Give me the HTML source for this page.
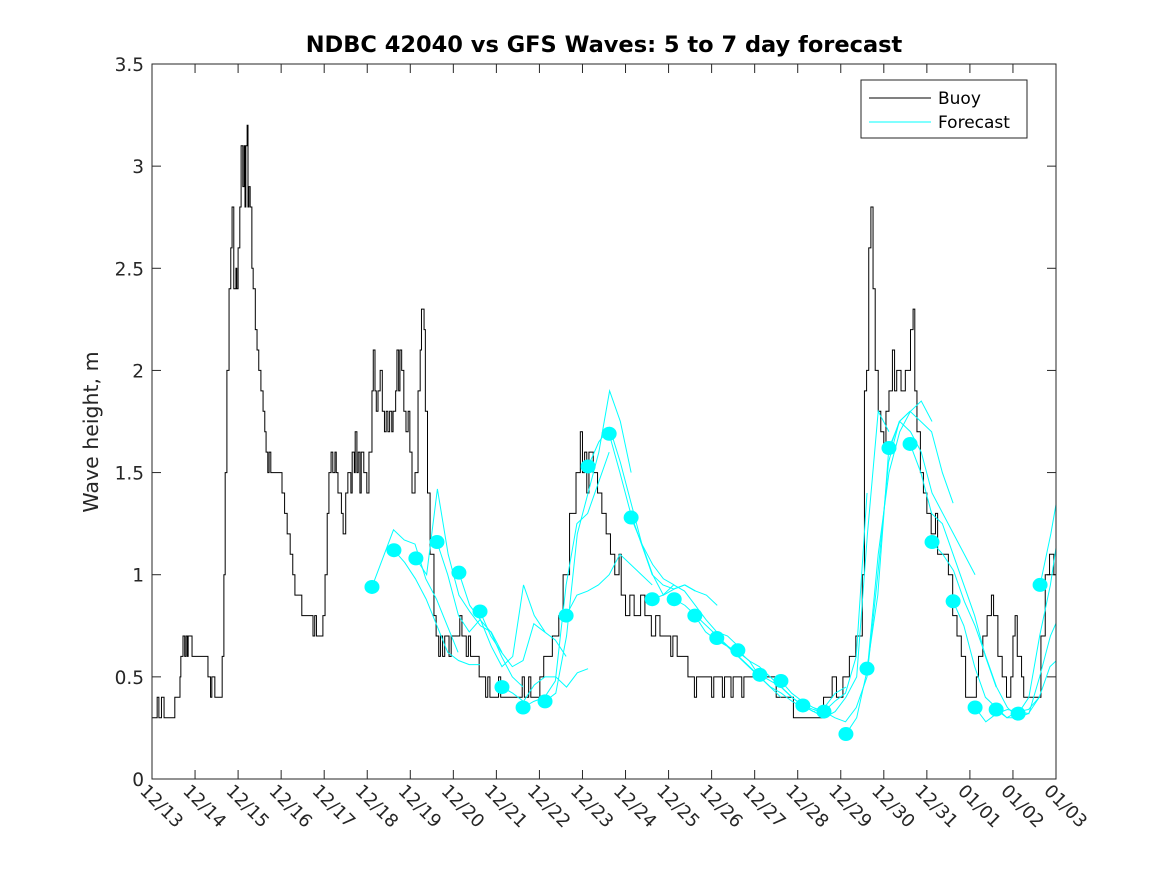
<!DOCTYPE html>
<html><head><meta charset="utf-8"><style>
body{margin:0;background:#fff;}
svg{display:block;font-family:"DejaVu Sans","Liberation Sans",sans-serif;}
</style></head><body>
<svg id="chart" width="1167" height="875">
<rect x="0" y="0" width="1167" height="875" fill="#fff"/>
<text x="604" y="52" text-anchor="middle" font-size="22.5" font-weight="bold">NDBC 42040 vs GFS Waves: 5 to 7 day forecast</text>
<text transform="translate(98,432) rotate(-90)" text-anchor="middle" font-size="20.5" fill="#262626">Wave height, m</text>
<g id="grid"></g>
<defs><clipPath id="clip"><rect x="152" y="64" width="904" height="715"/></clipPath></defs>
<g id="series" clip-path="url(#clip)"></g>
<rect x="152" y="64" width="904" height="715" fill="none" stroke="#262626" stroke-width="1"/>
<g>
<rect x="861" y="80" width="166" height="58" fill="#fff" stroke="#262626"/>
<line x1="869" y1="98" x2="931" y2="98" stroke="#000"/>
<text x="938" y="104" font-size="17" fill="#000">Buoy</text>
<line x1="869" y1="122" x2="931" y2="122" stroke="#00ffff"/>
<text x="938" y="128" font-size="17" fill="#000">Forecast</text>
</g>
</svg>
<script>
const xLabels=["12/13","12/14","12/15","12/16","12/17","12/18","12/19","12/20","12/21","12/22","12/23","12/24","12/25","12/26","12/27","12/28","12/29","12/30","12/31","01/01","01/02","01/03"];
const yTicks=[0,0.5,1,1.5,2,2.5,3,3.5];
const buoyDays=[0,0.12,0.16,0.22,0.28,0.53,0.65,0.67,0.72,0.76,0.79,0.82,0.84,0.93,1.30,1.36,1.39,1.46,1.63,1.67,1.70,1.74,1.79,1.83,1.86,1.90,1.95,1.97,2.0,2.04,2.07,2.11,2.14,2.16,2.18,2.21,2.23,2.25,2.28,2.32,2.35,2.40,2.44,2.48,2.53,2.58,2.62,2.65,2.69,2.72,2.76,3.02,3.08,3.14,3.21,3.27,3.32,3.40,3.48,3.74,3.78,3.82,3.97,4.02,4.07,4.11,4.16,4.20,4.25,4.28,4.32,4.40,4.44,4.50,4.55,4.62,4.65,4.70,4.72,4.76,4.79,4.83,4.86,4.92,4.99,5.04,5.11,5.14,5.18,5.21,5.25,5.30,5.35,5.40,5.44,5.48,5.52,5.57,5.60,5.66,5.69,5.73,5.76,5.80,5.85,5.90,5.95,5.99,6.04,6.11,6.18,6.23,6.26,6.32,6.35,6.40,6.46,6.55,6.60,6.66,6.70,6.75,6.80,6.90,6.95,7.15,7.20,7.30,7.35,7.40,7.60,7.75,7.80,7.85,8.05,8.10,8.25,8.60,8.65,8.75,8.80,9.01,9.10,9.30,9.45,9.55,9.70,9.85,9.95,10.0,10.05,10.10,10.15,10.25,10.35,10.45,10.55,10.65,10.75,10.85,10.9,11.0,11.1,11.2,11.35,11.45,11.6,11.7,11.8,12.05,12.1,12.2,12.45,12.6,12.65,13.0,13.05,13.25,13.3,13.45,13.5,13.7,13.75,14.5,14.9,15.6,15.8,15.9,16.05,16.2,16.35,16.5,16.55,16.6,16.65,16.7,16.75,16.8,16.87,16.93,17.0,17.05,17.12,17.2,17.25,17.3,17.4,17.5,17.62,17.68,17.72,17.77,17.85,17.92,18.0,18.1,18.2,18.25,18.4,18.5,18.6,18.7,18.8,18.9,19.15,19.2,19.3,19.4,19.5,19.55,19.65,19.75,19.85,19.95,20.0,20.05,20.1,20.2,20.25,20.65,20.75,20.85,20.95,21];
const buoyVals=[0.3,0.4,0.3,0.4,0.3,0.4,0.5,0.6,0.7,0.6,0.7,0.6,0.7,0.6,0.5,0.4,0.5,0.4,0.6,1.0,1.5,2.0,2.4,2.6,2.8,2.4,2.5,2.4,2.6,2.8,3.1,2.9,3.1,2.8,3.1,3.2,2.8,2.9,2.8,2.5,2.4,2.2,2.1,2.0,1.9,1.8,1.7,1.6,1.5,1.6,1.5,1.4,1.3,1.2,1.1,1.0,0.9,0.9,0.8,0.7,0.8,0.7,0.8,1.0,1.3,1.5,1.6,1.5,1.6,1.5,1.4,1.3,1.2,1.4,1.5,1.4,1.6,1.5,1.7,1.5,1.6,1.4,1.6,1.5,1.4,1.6,1.9,2.1,1.9,1.8,1.9,2.0,1.8,1.7,1.8,1.7,1.8,1.7,1.8,1.9,2.1,1.9,2.1,2.0,1.8,1.7,1.8,1.6,1.4,1.5,1.9,2.1,2.3,2.2,1.8,1.4,1.1,0.8,0.7,0.6,0.7,0.6,0.7,0.6,0.7,0.8,0.7,0.6,0.7,0.6,0.5,0.4,0.5,0.4,0.5,0.4,0.4,0.5,0.4,0.5,0.4,0.5,0.6,0.7,0.8,1.0,1.3,1.5,1.7,1.5,1.6,1.4,1.6,1.5,1.4,1.3,1.2,1.1,1.0,1.1,0.9,0.8,0.9,0.8,0.9,0.8,0.7,0.8,0.7,0.6,0.7,0.6,0.5,0.4,0.5,0.4,0.5,0.4,0.5,0.4,0.5,0.4,0.5,0.4,0.3,0.4,0.5,0.4,0.5,0.6,0.7,1.0,1.9,2.0,2.6,2.8,2.4,2.0,1.8,1.7,1.6,1.8,1.9,2.1,1.9,2.0,1.9,2.0,2.2,2.3,1.9,1.7,1.5,1.4,1.3,1.2,1.3,1.1,1.1,1.0,0.8,0.7,0.6,0.4,0.5,0.6,0.7,0.8,0.9,0.8,0.6,0.5,0.4,0.5,0.7,0.8,0.6,0.5,0.4,0.7,1.0,1.1,1.0,1.0];
const fcStarts=[5.11,5.62,6.13,6.62,7.13,7.62,8.13,8.62,9.13,9.62,10.13,10.62,11.13,11.62,12.13,12.61,13.12,13.61,14.12,14.61,15.12,15.61,16.12,16.61,17.12,17.61,18.12,18.61,19.12,19.61,20.12,20.63];
const fcStep=0.25;
const fcVals=[
[0.94,1.08,1.22,1.17,1.15,0.98,0.88,0.75,0.62],
[1.12,1.06,0.98,0.88,0.75,0.62,0.58,0.56,0.56],
[1.08,1.0,1.42,1.1,0.9,0.82,0.75,0.72,0.62],
[1.16,1.0,0.8,0.72,0.78,0.72,0.6,0.5,0.45],
[1.01,0.85,0.78,0.65,0.55,0.6,0.95,0.8,0.72],
[0.82,0.7,0.62,0.55,0.58,0.76,0.72,0.68,0.6],
[0.45,0.42,0.38,0.46,0.5,0.5,0.45,0.52,0.54],
[0.35,0.38,0.4,0.48,0.95,1.25,1.3,1.45,1.6],
[0.38,0.42,0.7,1.2,1.4,1.6,1.9,1.75,1.5],
[0.8,0.9,0.92,0.95,1.0,1.1,1.05,1.0,0.95],
[1.53,1.65,1.72,1.55,1.35,1.15,1.05,0.98,0.95],
[1.69,1.5,1.3,1.15,1.0,0.95,0.93,0.95,0.92],
[1.28,1.15,1.0,0.9,0.93,0.95,0.92,0.9,0.85],
[0.88,0.9,0.95,0.92,0.85,0.78,0.72,0.7,0.65],
[0.88,0.85,0.8,0.75,0.7,0.65,0.6,0.55,0.5],
[0.8,0.72,0.68,0.65,0.6,0.55,0.5,0.45,0.4],
[0.69,0.65,0.62,0.58,0.5,0.45,0.42,0.38,0.35],
[0.63,0.58,0.55,0.5,0.45,0.4,0.36,0.33,0.35],
[0.51,0.48,0.45,0.4,0.36,0.34,0.35,0.42,0.45],
[0.48,0.42,0.38,0.35,0.33,0.38,0.42,0.6,1.4],
[0.36,0.33,0.3,0.33,0.4,0.5,1.2,1.8,1.7],
[0.33,0.3,0.28,0.35,0.5,1.0,1.55,1.75,1.8],
[0.22,0.3,0.54,1.1,1.5,1.7,1.8,1.85,1.75],
[0.54,0.9,1.6,1.75,1.8,1.75,1.7,1.5,1.35],
[1.62,1.75,1.7,1.6,1.4,1.3,1.2,1.1,1.0],
[1.64,1.5,1.3,1.25,1.1,0.95,0.8,0.6,0.45],
[1.16,1.1,1.02,0.87,0.75,0.6,0.45,0.35,0.3],
[0.87,0.75,0.55,0.4,0.35,0.3,0.33,0.34,0.4],
[0.35,0.28,0.32,0.34,0.33,0.32,0.5,0.7,0.82],
[0.34,0.3,0.3,0.32,0.4,0.55,0.6,0.5,0.4],
[0.32,0.4,0.7,0.95,1.3,1.58],
[0.95,1.2,1.5]];
const NS="http://www.w3.org/2000/svg";
const X0=152,X1=1056,Y0=779,Y1=64;
function xs(d){return X0+(X1-X0)*d/21;}
function ys(v){return Y0-(Y0-Y1)*v/3.5;}
function mk(tag,attrs,parent){const e=document.createElementNS(NS,tag);for(const k in attrs)e.setAttribute(k,attrs[k]);parent.appendChild(e);return e;}
const grid=document.getElementById('grid');
const series=document.getElementById('series');
yTicks.forEach(v=>{
  const y=ys(v);
  const t1=mk('line',{x1:X0,y1:y,x2:X0+9,y2:y,stroke:'#262626'},grid);
  
  
  const t2=mk('line',{x1:X1-9,y1:y,x2:X1,y2:y,stroke:'#262626'},grid);
  
  
  const tx=mk('text',{x:X0-8,y:y+7,'text-anchor':'end','font-size':'18.5',fill:'#262626'},grid);
  tx.textContent=String(v);
  
  
});
xLabels.forEach((lab,i)=>{
  const x=xs(i);
  const t1=mk('line',{x1:x,y1:Y0,x2:x,y2:Y0-9,stroke:'#262626'},grid);
  
  
  const t2=mk('line',{x1:x,y1:Y1,x2:x,y2:Y1+9,stroke:'#262626'},grid);
  
  
  const tx=mk('text',{transform:`translate(${x-13},${Y0+13}) rotate(45)`,'font-size':'18',fill:'#262626'},grid);
  tx.textContent=lab;
  
  
});
let d='M'+xs(buoyDays[0])+','+ys(buoyVals[0]);
for(let i=1;i<buoyDays.length;i++){d+=' H'+xs(buoyDays[i])+' V'+ys(buoyVals[i]);}
const bl=mk('path',{d:d,fill:'none',stroke:'#000','stroke-width':'1'},series);


fcVals.forEach((vals,i)=>{
  const pts=vals.map((v,j)=>xs(fcStarts[i]+j*fcStep)+','+ys(v)).join(' ');
  const pl=mk('polyline',{points:pts,fill:'none',stroke:'#00ffff','stroke-width':'1'},series);
  
  
});
fcVals.forEach((vals,i)=>{
  const c=mk('ellipse',{cx:xs(fcStarts[i]),cy:ys(vals[0]),rx:7.5,ry:7,fill:'#00ffff'},series);
  
  
});
</script>
</body></html>
